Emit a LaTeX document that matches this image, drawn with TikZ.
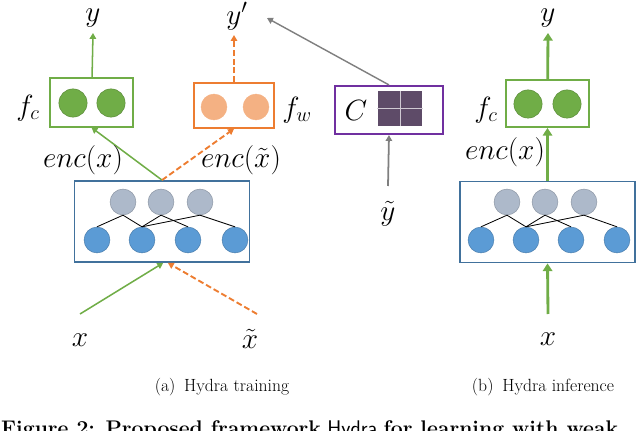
\documentclass[tikz,border=0pt]{standalone}
\usepackage{amsmath}
\usetikzlibrary{arrows.meta}
\definecolor{hgreen}{HTML}{70AD47}
\definecolor{horange}{HTML}{ED7D31}
\definecolor{hpeach}{HTML}{F4B183}
\definecolor{hblue}{HTML}{41719C}
\definecolor{hdot}{HTML}{5B9BD5}
\definecolor{hgrey}{HTML}{ADB9CA}
\definecolor{hpurple}{HTML}{7030A0}
\definecolor{hmat}{HTML}{5E4B68}
\definecolor{harrow}{HTML}{7F7F7F}
\tikzset{
  lbl/.style={font=\fontsize{24}{28}\selectfont, inner sep=1pt},
  subcap/.style={font=\fontsize{15}{18}\selectfont},
  encbox/.style={draw=hblue, line width=1.4pt, minimum width=149pt, minimum height=69pt},
  headbox/.style={draw=#1, line width=1.6pt, minimum width=70pt, minimum height=41pt},
  unit/.style={circle, draw=#1!80!black, fill=#1, line width=0.4pt, minimum size=22pt, inner sep=0pt},
  link/.style={black, line width=0.7pt},
  tip/.style={-{Triangle[width=5.5pt,length=5pt]}},
  bigtip/.style={-{Triangle[width=8pt,length=6.5pt]}},
  weak/.style={horange, line width=1.6pt, dash pattern=on 5pt off 2.5pt},
}
\begin{document}
\begin{tikzpicture}[x=0.85pt, y=-0.85pt]
  \useasboundingbox (0,0) rectangle (640,431);

  % (a) training: heads
  \node[headbox=hgreen] (fcA) at (91.5,102.5) {};
  \node[unit=hgreen, minimum size=24pt] (fcA1) at (73,103) {};
  \node[unit=hgreen, minimum size=24pt] (fcA2) at (111,103) {};
  \node[lbl] (fcAl) at (28,108) {$f_c$};
  \node[headbox=horange, minimum width=68pt, minimum height=38pt] (fw) at (234,105.5) {};
  \node[unit=hpeach, draw=hpeach] (fw1) at (214,107) {};
  \node[unit=hpeach, draw=hpeach] (fw2) at (256,107) {};
  \node[lbl] (fwl) at (297,110) {$f_w$};
  \node[lbl] (yA) at (93,18) {$y$};
  \node[lbl] (yp) at (237,16) {$y'$};

  % (a) training: encoder
  \node[encbox] (encA) at (162,221.5) {};
  \foreach \i/\x in {1/123, 2/161, 3/200}
    \node[unit=hgrey] (tA\i) at (\x,202) {};
  \foreach \i/\x in {1/97, 2/142, 3/188, 4/235}
    \node[unit=hdot] (bA\i) at (\x,240) {};
  \foreach \t/\b in {1/1, 1/2, 2/2, 2/3, 3/2, 3/4}
    \draw[link] (tA\t.south) -- (bA\b.north);

  % (a) training: arrows
  \coordinate (yAend) at (93,33);
  \coordinate (ypend) at (234,35);
  \draw[tip, hgreen, line width=1.3pt] (fcA) -- (yAend);
  \draw[tip, weak] (fw) -- (ypend);
  \draw[tip, hgreen, line width=1.3pt] (encA.north) -- (fcA.south);
  \draw[tip, weak] (encA.north) -- (fw.south);
  \node[lbl] (encx) at (83,160) {$enc(x)$};
  \node[lbl] (enctx) at (241,160) {$enc(\tilde{x})$};
  \coordinate (xAend) at (80,314);
  \coordinate (xtAend) at (257,314);
  \node[lbl] (xA) at (80,340) {$x$};
  \node[lbl] (xtA) at (250,339) {$\tilde{x}$};
  \draw[tip, hgreen, line width=1.3pt] (xAend) -- ([xshift=1pt]encA.south);
  \draw[tip, weak] (xtAend) -- ([xshift=5pt]encA.south);
  \node[subcap] (capA) at (222,387) {(a)\enspace Hydra training};

  % confusion matrix C
  \node[draw=hpurple, line width=1.6pt, minimum width=92pt, minimum height=41pt] (cbox) at (389,110) {};
  \node[lbl] (cl) at (356,111) {$C$};
  \node[fill=hmat, minimum width=38pt, minimum height=30pt, inner sep=0pt] (mat) at (400,108.5) {};
  \draw[white!70!hmat, line width=0.8pt] (mat.north) -- (mat.south) (mat.west) -- (mat.east);
  \node[lbl] (yt) at (388,214) {$\tilde{y}$};
  \coordinate (ytend) at (388,186);
  \coordinate (Cend) at (267,18);
  \draw[tip, harrow, line width=1.5pt] (ytend) -- (cbox.south);
  \draw[tip, harrow, line width=1.2pt] (cbox.north) -- (Cend);

  % (b) inference
  \node[headbox=hgreen, minimum height=40pt] (fcB) at (547.5,103.5) {};
  \node[unit=hgreen, minimum size=24pt] (fcB1) at (528,104) {};
  \node[unit=hgreen, minimum size=24pt] (fcB2) at (567,104) {};
  \node[lbl] (fcBl) at (486,110) {$f_c$};
  \node[lbl] (yB) at (548,18) {$y$};
  \node[encbox] (encB) at (547.5,222) {};
  \foreach \i/\x in {1/507, 2/545, 3/584}
    \node[unit=hgrey] (tB\i) at (\x,202) {};
  \foreach \i/\x in {1/481, 2/526, 3/571, 4/617}
    \node[unit=hdot] (bB\i) at (\x,240) {};
  \foreach \t/\b in {1/1, 1/2, 2/2, 2/3, 3/2, 3/4}
    \draw[link] (tB\t.south) -- (bB\b.north);
  \coordinate (yBend) at (548,33);
  \draw[bigtip, hgreen, line width=2.4pt] (fcB) -- (yBend);
  \draw[bigtip, hgreen, line width=2.4pt] (encB.north) -- (fcB.south);
  \node[lbl] (encxB) at (505,152) {$enc(x)$};
  \coordinate (xBend) at (548,314);
  \node[lbl] (xB) at (548,339) {$x$};
  \draw[bigtip, hgreen, line width=2.4pt] (xBend) -- (encB.south);
  \node[subcap] (capB) at (543,387) {(b)\enspace Hydra inference};

  % figure caption, cut at the bottom edge
  \node[anchor=base west, inner sep=0pt, font=\fontsize{18}{21}\selectfont] (figcap) at (1,435)
    {\textbf{Figure 2: Proposed framework} \textsf{Hydra} \textbf{for learning with weak}};
\end{tikzpicture}
\end{document}
